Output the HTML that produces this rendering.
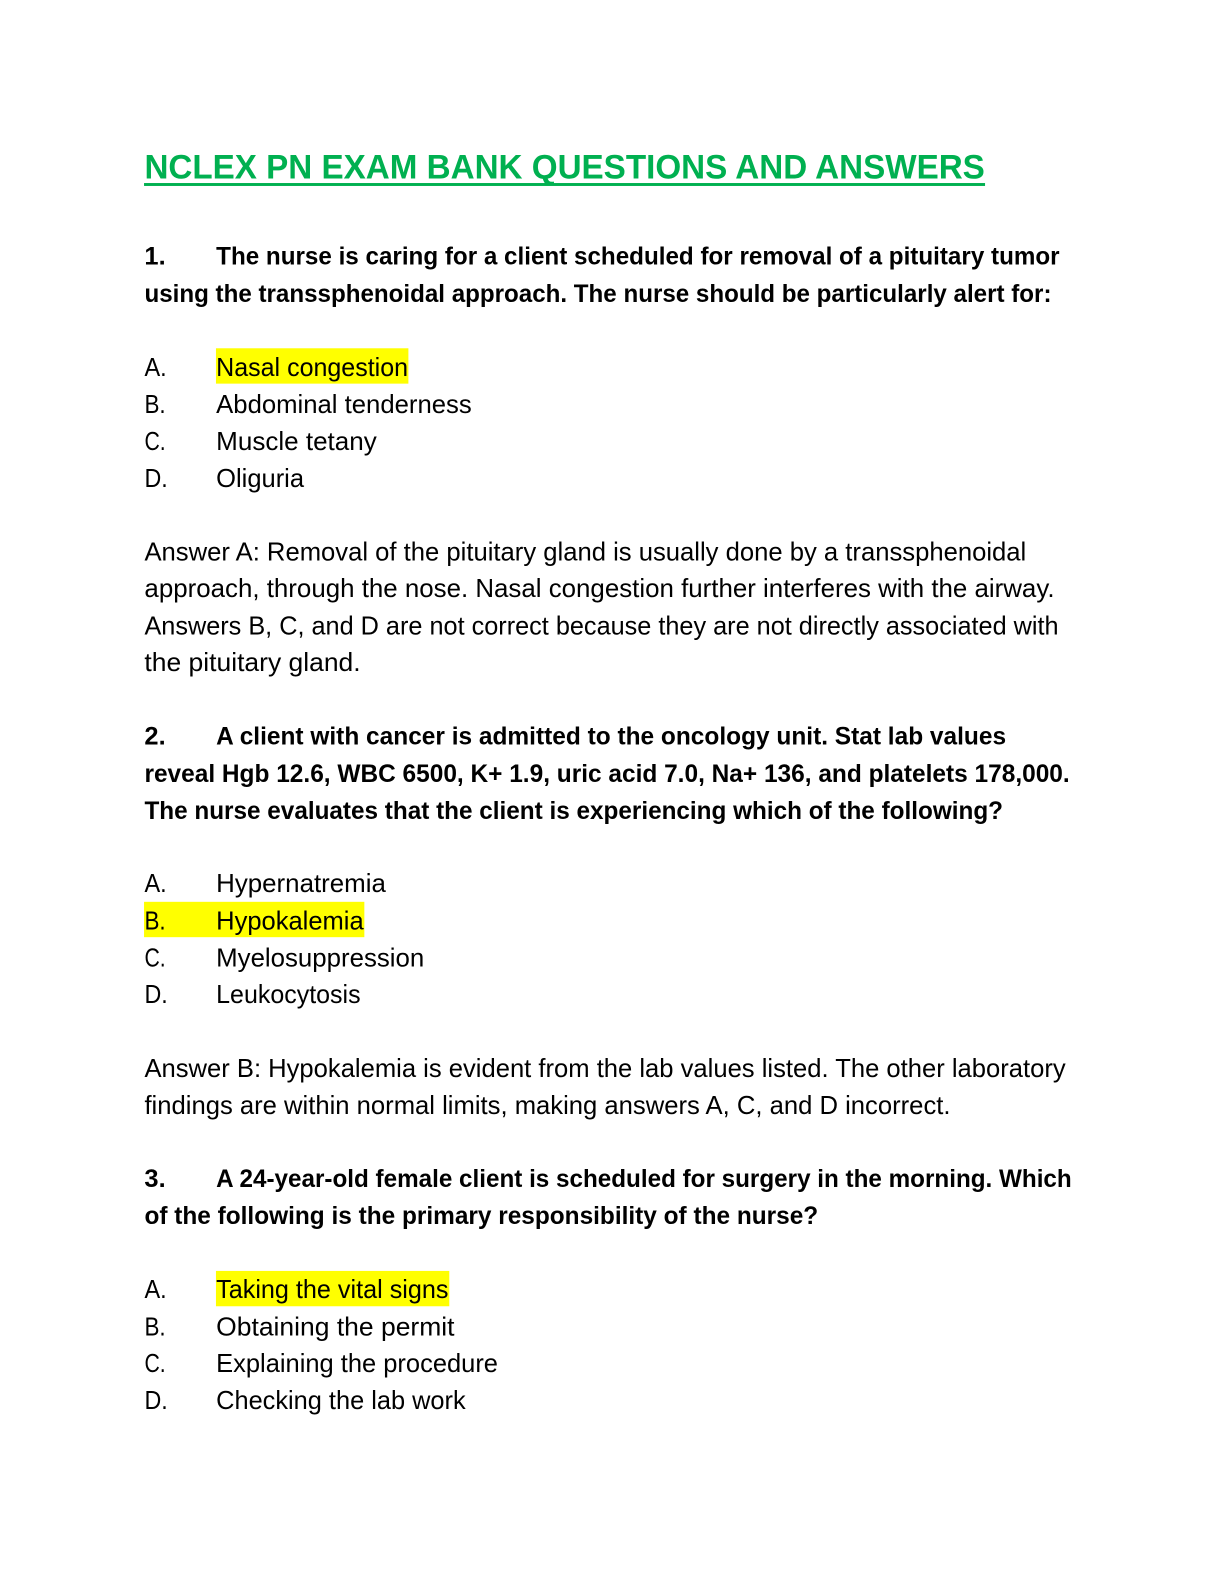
<!DOCTYPE html>
<html><head><meta charset="utf-8"><style>
html,body{margin:0;padding:0;background:#fff;overflow:hidden}
svg{display:block}
text{font-family:"Liberation Sans",sans-serif;font-size:25.5px;fill:#000;white-space:pre}
.b{font-weight:bold;font-size:25px;fill:#000}
.t{font-weight:bold;font-size:33.5px;fill:#00b050}
</style></head><body>
<svg width="1224" height="1584" viewBox="0 0 1211.76 1568.16" xmlns="http://www.w3.org/2000/svg">
<rect width="1224" height="1584" fill="#fff"/>
<rect x="213.8" y="344.8" width="190.5" height="35" fill="#ffff00"/>
<rect x="142.6" y="892.8" width="218.1" height="35" fill="#ffff00"/>
<rect x="213.8" y="1258.2" width="231" height="35" fill="#ffff00"/>
<text class="t" x="143" y="176.5" textLength="832" lengthAdjust="spacingAndGlyphs">NCLEX PN EXAM BANK QUESTIONS AND ANSWERS</text>
<rect x="142.6" y="181.2" width="832.6" height="2.9" fill="#00b050"/>

<text class="b" x="143" y="262" textLength="21" lengthAdjust="spacingAndGlyphs">1.</text>
<text class="b" x="214" y="262" textLength="835" lengthAdjust="spacingAndGlyphs">The nurse is caring for a client scheduled for removal of a pituitary tumor</text>
<text class="b" x="143" y="299" textLength="898" lengthAdjust="spacingAndGlyphs">using the transsphenoidal approach. The nurse should be particularly alert for:</text>

<text x="143" y="372" textLength="22" lengthAdjust="spacingAndGlyphs">A.</text>
<text x="214" y="372" textLength="190" lengthAdjust="spacingAndGlyphs">Nasal congestion</text>
<text x="143" y="409" textLength="21" lengthAdjust="spacingAndGlyphs">B.</text>
<text x="214" y="409" textLength="253" lengthAdjust="spacingAndGlyphs">Abdominal tenderness</text>
<text x="143" y="445.5" textLength="21" lengthAdjust="spacingAndGlyphs">C.</text>
<text x="214" y="445.5" textLength="159" lengthAdjust="spacingAndGlyphs">Muscle tetany</text>
<text x="143" y="482" textLength="23" lengthAdjust="spacingAndGlyphs">D.</text>
<text x="214" y="482" textLength="87" lengthAdjust="spacingAndGlyphs">Oliguria</text>

<text x="143" y="555" textLength="873" lengthAdjust="spacingAndGlyphs">Answer A: Removal of the pituitary gland is usually done by a transsphenoidal</text>
<text x="143" y="591" textLength="901" lengthAdjust="spacingAndGlyphs">approach, through the nose. Nasal congestion further interferes with the airway.</text>
<text x="143" y="628" textLength="905" lengthAdjust="spacingAndGlyphs">Answers B, C, and D are not correct because they are not directly associated with</text>
<text x="143" y="664.5" textLength="214" lengthAdjust="spacingAndGlyphs">the pituitary gland.</text>

<text class="b" x="143" y="737" textLength="21" lengthAdjust="spacingAndGlyphs">2.</text>
<text class="b" x="214" y="737" textLength="782" lengthAdjust="spacingAndGlyphs">A client with cancer is admitted to the oncology unit. Stat lab values</text>
<text class="b" x="143" y="774" textLength="916" lengthAdjust="spacingAndGlyphs">reveal Hgb 12.6, WBC 6500, K+ 1.9, uric acid 7.0, Na+ 136, and platelets 178,000.</text>
<text class="b" x="143" y="811" textLength="850" lengthAdjust="spacingAndGlyphs">The nurse evaluates that the client is experiencing which of the following?</text>

<text x="143" y="883" textLength="22" lengthAdjust="spacingAndGlyphs">A.</text>
<text x="214" y="883" textLength="168" lengthAdjust="spacingAndGlyphs">Hypernatremia</text>
<text x="143" y="920" textLength="21" lengthAdjust="spacingAndGlyphs">B.</text>
<text x="214" y="920" textLength="146" lengthAdjust="spacingAndGlyphs">Hypokalemia</text>
<text x="143" y="957" textLength="21" lengthAdjust="spacingAndGlyphs">C.</text>
<text x="214" y="957" textLength="206" lengthAdjust="spacingAndGlyphs">Myelosuppression</text>
<text x="143" y="993" textLength="23" lengthAdjust="spacingAndGlyphs">D.</text>
<text x="214" y="993" textLength="143" lengthAdjust="spacingAndGlyphs">Leukocytosis</text>

<text x="143" y="1066" textLength="912" lengthAdjust="spacingAndGlyphs">Answer B: Hypokalemia is evident from the lab values listed. The other laboratory</text>
<text x="143" y="1103" textLength="798" lengthAdjust="spacingAndGlyphs">findings are within normal limits, making answers A, C, and D incorrect.</text>

<text class="b" x="143" y="1175" textLength="21" lengthAdjust="spacingAndGlyphs">3.</text>
<text class="b" x="214" y="1175" textLength="847" lengthAdjust="spacingAndGlyphs">A 24-year-old female client is scheduled for surgery in the morning. Which</text>
<text class="b" x="143" y="1212" textLength="667" lengthAdjust="spacingAndGlyphs">of the following is the primary responsibility of the nurse?</text>

<text x="143" y="1285" textLength="22" lengthAdjust="spacingAndGlyphs">A.</text>
<text x="214" y="1285" textLength="230" lengthAdjust="spacingAndGlyphs">Taking the vital signs</text>
<text x="143" y="1322" textLength="21" lengthAdjust="spacingAndGlyphs">B.</text>
<text x="214" y="1322" textLength="236" lengthAdjust="spacingAndGlyphs">Obtaining the permit</text>
<text x="143" y="1358.5" textLength="21" lengthAdjust="spacingAndGlyphs">C.</text>
<text x="214" y="1358.5" textLength="279" lengthAdjust="spacingAndGlyphs">Explaining the procedure</text>
<text x="143" y="1395" textLength="23" lengthAdjust="spacingAndGlyphs">D.</text>
<text x="214" y="1395" textLength="247" lengthAdjust="spacingAndGlyphs">Checking the lab work</text>
</svg>
</body></html>
